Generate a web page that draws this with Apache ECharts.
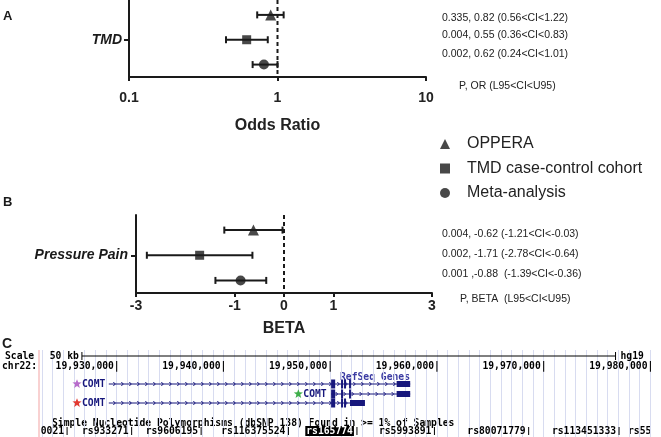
<!DOCTYPE html>
<html>
<head>
<meta charset="utf-8">
<script src="https://cdn.jsdelivr.net/npm/echarts@6/dist/echarts.min.js"></script>
<style>
  html, body { margin: 0; padding: 0; background: #fff; }
  #chart { width: 661px; height: 437px; }
</style>
</head>
<body>
<div id="chart"></div>
<script>
// ---- forest plot data ----
var studies = ['OPPERA', 'TMD case-control cohort', 'Meta-analysis'];
var studySymbols = ['triangle', 'rect', 'circle'];
var studySizes = [11, 9, 10];
var studyRows = [2.5, 1.5, 0.5];

var orEst = [0.90, 0.62, 0.81];
var orLow = [0.73, 0.45, 0.68];
var orHigh = [1.10, 0.86, 1.00];
var orTicks = [0.1, 1, 10];
var orNotes = ['0.335, 0.82 (0.56<CI<1.22)', '0.004, 0.55 (0.36<CI<0.83)', '0.002, 0.62 (0.24<CI<1.01)'];

var betaEst = [-0.62, -1.71, -0.88];
var betaLow = [-1.21, -2.78, -1.39];
var betaHigh = [-0.03, -0.64, -0.36];
var betaTicks = [-3, -1, 0, 1, 3];
var betaNotes = ['0.004, -0.62 (-1.21<CI<-0.03)', '0.002, -1.71 (-2.78<CI<-0.64)', '0.001 ,-0.88  (-1.39<CI<-0.36)'];

// ---- genome browser data (hg19, chr22) ----
var chromTicks = [19930000, 19940000, 19950000, 19960000, 19970000, 19980000];
var scaleBar = [19926740, 19976740];
var txNames = ['COMT', 'COMT', 'COMT'];
var txStarColors = ['#b86ccb', '#3fae4a', '#e23a32'];
var txStarPos = [19926280, 19947020, 19926280];
var txStart = [19929260, 19950090, 19929260];
var txEnd = [19957500, 19957500, 19953260];
var txExons = [
  [[19950090, 19950470], [19951020, 19951210], [19951300, 19951490], [19951770, 19951950]],
  [[19950090, 19950470], [19951020, 19951210], [19951770, 19951950]],
  [[19950090, 19950470], [19951020, 19951210], [19951300, 19951490]]
];
var txUtr = [[19956230, 19957500], [19956230, 19957500], [19951860, 19953260]];
var snpNames = ['0021', 'rs933271', 'rs9606195', 'rs116375524', 'rs165774', 'rs5993891', 'rs80071779', 'rs113451333'];
var snpPos = [19925350, 19931400, 19937910, 19946090, 19952510, 19959770, 19968600, 19977070];
var snpHighlight = 'rs165774';

var ink = '#1a1a1a';
var navy = '#17177c';
var sans = 'Liberation Sans';
var monoFont = 'bold 9.7px "DejaVu Sans Mono"';
var noteFont = '10.5px "Liberation Sans"';

var chart = echarts.init(document.getElementById('chart'));

function errorBars(axisIdx, low, high) {
  return {
    type: 'custom',
    xAxisIndex: axisIdx,
    yAxisIndex: axisIdx,
    silent: true,
    z: 3,
    data: studies.map(function (s, i) { return [low[i], high[i], studyRows[i]]; }),
    encode: { x: [0, 1], y: 2 },
    renderItem: function (params, api) {
      var a = api.coord([api.value(0), api.value(2)]);
      var b = api.coord([api.value(1), api.value(2)]);
      var h = 3.5;
      var st = { stroke: ink, lineWidth: 2 };
      return {
        type: 'group',
        children: [
          { type: 'line', shape: { x1: a[0], y1: a[1], x2: b[0], y2: b[1] }, style: st },
          { type: 'line', shape: { x1: a[0], y1: a[1] - h, x2: a[0], y2: a[1] + h }, style: st },
          { type: 'line', shape: { x1: b[0], y1: b[1] - h, x2: b[0], y2: b[1] + h }, style: st }
        ]
      };
    }
  };
}

// dashed "no effect" line, full grid height
function refLine(axisIdx, value) {
  return {
    type: 'custom',
    xAxisIndex: axisIdx,
    yAxisIndex: axisIdx,
    silent: true,
    z: 2,
    data: [[value, 1]],
    encode: { x: 0, y: 1 },
    renderItem: function (params, api) {
      var x = api.coord([api.value(0), 1])[0];
      var cs = params.coordSys;
      return {
        type: 'line',
        shape: { x1: x, y1: cs.y, x2: x, y2: cs.y + cs.height },
        style: { stroke: ink, lineWidth: 2, lineDash: [4, 3] }
      };
    }
  };
}

function points(axisIdx, est) {
  return studies.map(function (s, i) {
    return {
      type: 'scatter',
      name: s,
      xAxisIndex: axisIdx,
      yAxisIndex: axisIdx,
      symbol: studySymbols[i],
      symbolSize: studySizes[i],
      itemStyle: { color: ink },
      z: 4,
      data: [[est[i], studyRows[i]]]
    };
  });
}

function starPoints(cx, cy, r) {
  var pts = [];
  for (var k = 0; k < 10; k++) {
    var rr = k % 2 === 0 ? r : r * 0.42;
    var ang = -Math.PI / 2 + k * Math.PI / 5;
    pts.push([cx + rr * Math.cos(ang), cy + rr * Math.sin(ang)]);
  }
  return pts;
}

var geneRowY = [34, 44, 53];

var forestAxisLine = { onZero: false, lineStyle: { color: ink, width: 2 } };

var option = {
  animation: false,
  grid: [
    { left: 129, top: 0, width: 297, height: 77 },
    { left: 136, top: 215, width: 296, height: 78 },
    { left: 42, top: 350, width: 623.5, height: 87 }
  ],
  legend: {
    orient: 'vertical',
    left: 435,
    top: 131,
    itemWidth: 10,
    itemHeight: 10,
    itemGap: 8.5,
    selectedMode: false,
    data: studies.map(function (s, i) { return { name: s, icon: studySymbols[i] }; }),
    textStyle: { fontFamily: sans, fontSize: 16, color: '#222', padding: [0, 0, 0, 12] }
  },
  xAxis: [
    {
      gridIndex: 0, type: 'log', logBase: 10, min: 0.1, max: 10,
      axisLine: forestAxisLine,
      axisTick: { length: 4, lineStyle: { color: ink, width: 2 }, customValues: orTicks },
      axisLabel: {
        customValues: orTicks, margin: 14,
        fontFamily: sans, fontWeight: 'bold', fontSize: 14, color: '#222',
        formatter: function (v) { return String(+(+v).toPrecision(3)); }
      },
      splitLine: { show: false },
      name: 'Odds Ratio', nameLocation: 'middle', nameGap: 41,
      nameTextStyle: { fontFamily: sans, fontWeight: 'bold', fontSize: 16, color: '#222' }
    },
    {
      gridIndex: 1, type: 'value', min: -3, max: 3,
      axisLine: forestAxisLine,
      axisTick: { length: 4, lineStyle: { color: ink, width: 2 }, customValues: betaTicks },
      axisLabel: {
        customValues: betaTicks, margin: 6,
        fontFamily: sans, fontWeight: 'bold', fontSize: 14, color: '#222'
      },
      splitLine: { show: false },
      name: 'BETA', nameLocation: 'middle', nameGap: 28,
      nameTextStyle: { fontFamily: sans, fontWeight: 'bold', fontSize: 16, color: '#222' }
    },
    {
      gridIndex: 2, type: 'value', min: 19923000, max: 19981000, interval: 1000,
      axisLine: { show: false }, axisTick: { show: false }, axisLabel: { show: false },
      splitLine: { show: true, lineStyle: { color: '#d8dcf0', width: 1 } }
    }
  ],
  yAxis: [
    {
      gridIndex: 0, type: 'value', min: 0, max: 3.1,
      axisLine: { show: true, onZero: false, lineStyle: { color: ink, width: 2 } },
      axisTick: { show: true, length: 5, lineStyle: { color: ink, width: 2 }, customValues: [1.5] },
      axisLabel: {
        customValues: [1.5], margin: 7,
        fontFamily: sans, fontWeight: 'bold', fontStyle: 'italic', fontSize: 14, color: ink,
        formatter: function () { return 'TMD'; }
      },
      splitLine: { show: false }
    },
    {
      gridIndex: 1, type: 'value', min: 0, max: 3.1,
      axisLine: { show: true, onZero: false, lineStyle: { color: ink, width: 2 } },
      axisTick: { show: true, length: 5, lineStyle: { color: ink, width: 2 }, customValues: [1.5] },
      axisLabel: {
        customValues: [1.5], margin: 8,
        fontFamily: sans, fontWeight: 'bold', fontStyle: 'italic', fontSize: 14, color: ink,
        formatter: function () { return 'Pressure Pain'; }
      },
      splitLine: { show: false }
    },
    { gridIndex: 2, type: 'value', min: 0, max: 1, show: false }
  ],
  series: [].concat(
    [refLine(0, 1), errorBars(0, orLow, orHigh)],
    points(0, orEst),
    [refLine(1, 0), errorBars(1, betaLow, betaHigh)],
    points(1, betaEst),
    [
      // scale bar
      {
        type: 'custom', xAxisIndex: 2, yAxisIndex: 2, silent: true, clip: false,
        data: [[scaleBar[0], scaleBar[1]]],
        encode: { x: [0, 1] },
        renderItem: function (params, api) {
          var a = api.coord([api.value(0), 0])[0];
          var b = api.coord([api.value(1), 0])[0];
          var y = params.coordSys.y + 6;
          var st = { stroke: '#000', lineWidth: 1 };
          return {
            type: 'group',
            children: [
              { type: 'line', shape: { x1: a, y1: y, x2: b, y2: y }, style: st },
              { type: 'line', shape: { x1: a, y1: y - 4, x2: a, y2: y + 4 }, style: st },
              { type: 'line', shape: { x1: b, y1: y - 4, x2: b, y2: y + 4 }, style: st },
              { type: 'text', style: { x: a - 3, y: y, text: '50 kb', align: 'right', verticalAlign: 'middle', font: monoFont, fill: '#000' } },
              { type: 'text', style: { x: b + 5, y: y, text: 'hg19', align: 'left', verticalAlign: 'middle', font: monoFont, fill: '#000' } }
            ]
          };
        }
      },
      // chromosome position labels
      {
        type: 'custom', xAxisIndex: 2, yAxisIndex: 2, silent: true, clip: false,
        data: chromTicks.map(function (p) { return [p]; }),
        encode: { x: 0 },
        renderItem: function (params, api) {
          var p = api.value(0);
          var x = api.coord([p, 0])[0];
          return {
            type: 'text',
            style: {
              x: x + 3, y: params.coordSys.y + 16,
              text: p.toLocaleString('en-US') + '|',
              align: 'right', verticalAlign: 'middle',
              font: monoFont, fill: '#000'
            }
          };
        }
      },
      // RefSeq transcripts
      {
        type: 'custom', xAxisIndex: 2, yAxisIndex: 2, silent: true, clip: false,
        data: txNames.map(function (n, i) { return [txStart[i], txEnd[i], i]; }),
        encode: { x: [0, 1] },
        renderItem: function (params, api) {
          var i = api.value(2);
          var cy = params.coordSys.y + geneRowY[i];
          var X = function (p) { return api.coord([p, 0])[0]; };
          var x1 = X(txStart[i]), x2 = X(txEnd[i]);
          var kids = [
            { type: 'line', shape: { x1: x1, y1: cy, x2: x2, y2: cy }, style: { stroke: navy, lineWidth: 1 } }
          ];
          for (var cx = x1 + 6; cx < x2 - 4; cx += 8) {
            kids.push({
              type: 'polyline',
              shape: { points: [[cx - 1.5, cy - 2], [cx + 0.5, cy], [cx - 1.5, cy + 2]] },
              style: { stroke: navy, lineWidth: 1, fill: null }
            });
          }
          txExons[i].forEach(function (e) {
            var a = X(e[0]), b = X(e[1]);
            kids.push({ type: 'rect', shape: { x: a, y: cy - 4.5, width: Math.max(b - a, 1.5), height: 9 }, style: { fill: navy } });
          });
          var ua = X(txUtr[i][0]), ub = X(txUtr[i][1]);
          kids.push({ type: 'rect', shape: { x: ua, y: cy - 3, width: ub - ua, height: 6 }, style: { fill: navy } });
          var sx = X(txStarPos[i]);
          kids.push({ type: 'polygon', shape: { points: starPoints(sx, cy, 4.8) }, style: { fill: txStarColors[i] } });
          kids.push({
            type: 'text',
            style: { x: sx + 5, y: cy, text: txNames[i], align: 'left', verticalAlign: 'middle', font: monoFont, fill: navy }
          });
          return { type: 'group', children: kids };
        }
      },
      // dbSNP labels
      {
        type: 'custom', xAxisIndex: 2, yAxisIndex: 2, silent: true, clip: false,
        data: snpNames.map(function (n, i) { return [snpPos[i], i]; }),
        encode: { x: 0 },
        renderItem: function (params, api) {
          var i = api.value(1);
          var x = api.coord([api.value(0), 0])[0];
          var y = params.coordSys.y + 81;
          var hi = snpNames[i] === snpHighlight;
          return {
            type: 'group',
            children: [
              {
                type: 'text',
                style: {
                  x: x - 3, y: y, text: snpNames[i], align: 'right', verticalAlign: 'middle',
                  font: monoFont, fill: hi ? '#fff' : '#000',
                  backgroundColor: hi ? '#000' : null, padding: hi ? [0, 1] : 0
                }
              },
              { type: 'line', shape: { x1: x, y1: y - 4, x2: x, y2: y + 4 }, style: { stroke: '#000', lineWidth: 1 } }
            ]
          };
        }
      }
    ]
  ),
  graphic: [
    { type: 'text', left: 3, top: 10, style: { text: 'A', font: 'bold 13px "Liberation Sans"', fill: ink } },
    { type: 'text', left: 3, top: 196, style: { text: 'B', font: 'bold 13px "Liberation Sans"', fill: ink } },
    { type: 'text', left: 2, top: 337, style: { text: 'C', font: 'bold 14px "Liberation Sans"', fill: ink } },

    { type: 'text', left: 442, top: 13, style: { text: orNotes[0], font: noteFont, fill: '#222' } },
    { type: 'text', left: 442, top: 30, style: { text: orNotes[1], font: noteFont, fill: '#222' } },
    { type: 'text', left: 442, top: 49, style: { text: orNotes[2], font: noteFont, fill: '#222' } },
    { type: 'text', left: 459, top: 81, style: { text: 'P, OR (L95<CI<U95)', font: noteFont, fill: '#222' } },

    { type: 'text', left: 442, top: 229, style: { text: betaNotes[0], font: noteFont, fill: '#222' } },
    { type: 'text', left: 442, top: 249, style: { text: betaNotes[1], font: noteFont, fill: '#222' } },
    { type: 'text', left: 442, top: 269, style: { text: betaNotes[2], font: noteFont, fill: '#222' } },
    { type: 'text', left: 460, top: 294, style: { text: 'P, BETA  (L95<CI<U95)', font: noteFont, fill: '#222' } },

    { type: 'line', shape: { x1: 39, y1: 350, x2: 39, y2: 437 }, style: { stroke: '#f2a3a3', lineWidth: 1 } },
    { type: 'text', left: 5, top: 351, style: { text: 'Scale', font: monoFont, fill: '#000' } },
    { type: 'text', left: 2, top: 361, style: { text: 'chr22:', font: monoFont, fill: '#000' } },
    { type: 'text', left: 340, top: 372, style: { text: 'RefSeq Genes', font: monoFont, fill: '#3a3aa2' } },
    { type: 'text', left: 52, top: 418, style: { text: 'Simple Nucleotide Polymorphisms (dbSNP 138) Found in >= 1% of Samples', font: monoFont, fill: '#000' } },
    { type: 'text', left: 628, top: 426, style: { text: 'rs55', font: monoFont, fill: '#000' } }
  ]
};

chart.setOption(option);
</script>
</body>
</html>
